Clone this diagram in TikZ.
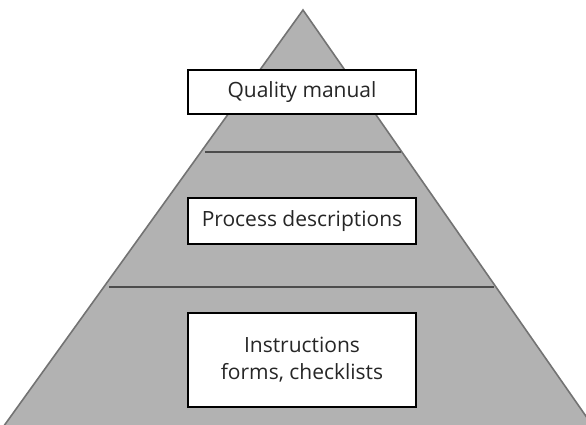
\documentclass[tikz,border=0pt]{standalone}
\usepackage{fontspec}
\setmainfont{Open Sans}
\begin{document}
\begin{tikzpicture}[x=1pt,y=-1pt,
  tier/.style={draw=black!70, line width=1.3pt},
  label box/.style={draw=black, line width=2.2pt, fill=white, inner sep=0pt, font=\fontsize{21}{27}\selectfont, align=center, text=black!85}]
\useasboundingbox (0,0) rectangle (586,424);
\begin{scope}
\clip (0,0) rectangle (586,424);
\coordinate (apex) at (303,10);
\coordinate (bl) at (-17,455);
\coordinate (br) at (613,455);
\fill[fill=black!30, draw=black!55, line width=1.6pt] (apex) -- (bl) -- (br) -- cycle;
\coordinate (l1) at (205,152);
\coordinate (r1) at (401,152);
\coordinate (l2) at (109,287);
\coordinate (r2) at (494,287);
\draw[tier] (l1) -- (r1);
\draw[tier] (l2) -- (r2);
\end{scope}
\node[label box, minimum width=228pt, minimum height=44pt] (qm) at (302,92) {Quality manual};
\node[label box, minimum width=228pt, minimum height=46pt] (pd) at (302,221) {Process descriptions};
\node[label box, minimum width=228pt, minimum height=94pt] (ins) at (302,360) {Instructions\\forms, checklists};
\end{tikzpicture}
\end{document}
